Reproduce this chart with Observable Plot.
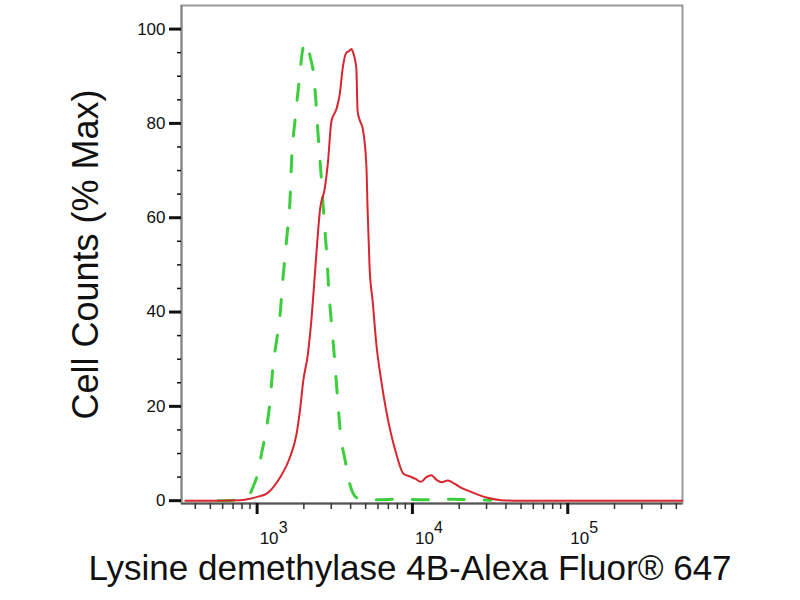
<!DOCTYPE html>
<html>
<head>
<meta charset="utf-8">
<script src="https://cdn.jsdelivr.net/npm/d3@7"></script>
<script src="https://cdn.jsdelivr.net/npm/@observablehq/plot@0.6"></script>
<style>
  body { margin: 0; background: white; }
</style>
</head>
<body>
<div id="chart"></div>
<script>
// isotype control (green, dashed)
const controlX = [560, 700, 800, 880, 930, 1000, 1077, 1142, 1212, 1267, 1343, 1403, 1468, 1550, 1628, 1669, 1752, 1860, 1963, 2030, 2110, 2190, 2318, 2390, 2460, 2570, 2690, 2810, 2896, 3023, 3160, 3304, 3454, 3670, 3945, 4380, 4900, 6000, 8000, 12000, 18000, 26000, 32000]
const controlY = [0, 0.1, 0.3, 0.8, 2.5, 5.3, 10.6, 14.8, 21.2, 28.6, 34.5, 39.2, 47.2, 55.5, 63.6, 72.5, 80.5, 88.6, 95.5, 97.2, 96.8, 94.3, 90, 84.7, 78.4, 70, 60.4, 51.9, 44.5, 37, 29.7, 21.2, 13.8, 8.9, 3.6, 0.6, 0.2, 0.2, 0.3, 0.2, 0.3, 0.2, 0.1]

// Lysine demethylase 4B stained sample (red)
const sampleX = [345, 580, 780, 900, 1000, 1154, 1404, 1628, 1796, 1887, 1982, 2123, 2243, 2356, 2462, 2535, 2729, 2852, 3012, 3244, 3406, 3557, 3756, 3900, 4045, 4120, 4353, 4437, 4600, 4778, 5047, 5149, 5300, 5543, 5853, 6300, 6780, 7860, 8750, 9710, 10500, 11330, 12300, 13230, 14300, 15500, 16800, 18030, 20000, 24600, 30500, 37200, 48500, 100000, 545000]
const sampleY = [0, 0, 0.1, 0.4, 0.8, 1.5, 4.9, 9.2, 14.2, 19.1, 25.4, 31.1, 38.8, 48.1, 56.6, 61.4, 66.3, 71.4, 80.5, 83.1, 86.2, 91.7, 95.0, 95.3, 95.8, 95.3, 91.8, 82.6, 80.5, 79.0, 71.4, 61.4, 49.4, 42.4, 33.3, 25.4, 19.1, 10.0, 5.7, 5.1, 4.6, 4.0, 5.0, 5.4, 4.4, 3.9, 4.3, 3.9, 3.0, 1.7, 0.6, 0.1, 0, 0, 0]

const decades = [1000, 10000, 100000]
const minorX = [400, 500, 600, 700, 800, 900, 2000, 3000, 4000, 5000, 6000, 7000, 8000, 9000, 20000, 30000, 40000, 50000, 60000, 70000, 80000, 90000, 200000, 300000, 400000, 500000]
const yTicks = [0, 20, 40, 60, 80, 100]
const yMinor = d3.range(0, 105, 5)

const control = controlX.map((x, i) => ({x, y: controlY[i]}))
const sample = sampleX.map((x, i) => ({x, y: sampleY[i]}))

let chart = Plot.plot({
  width: 800,
  height: 600,
  marginLeft: 181,
  marginRight: 118,
  marginTop: 5,
  marginBottom: 97,
  style: { fontFamily: "Liberation Sans, Arial, sans-serif", background: "white", color: "#111" },
  x: { type: "log", domain: [326, 548000], label: null },
  y: { domain: [-0.6, 105], label: null },
  marks: [
    Plot.frame({ stroke: "#9a9a9a", strokeWidth: 2 }),
    Plot.ruleY([-0.6], { stroke: "#555", strokeWidth: 2 }),
    Plot.ruleX([326], { stroke: "#888", strokeWidth: 2 }),
    // ticks
    Plot.axisY(yMinor, { tickSize: 4, strokeWidth: 1.5, tickFormat: () => "", label: null }),
    Plot.axisY(yTicks, { tickSize: 12, strokeWidth: 3, tickPadding: 4, fontSize: 17, label: null }),
    Plot.axisX(minorX, { tickSize: 6, strokeWidth: 1.5, stroke: "#333", tickFormat: () => "", label: null }),
    Plot.axisX(decades, { tickSize: 11, strokeWidth: 3, tickFormat: () => "", label: null }),
    Plot.text(decades, { x: d => d, frameAnchor: "bottom", text: () => "10", dx: 12, dy: 40, fontSize: 17 }),
    Plot.text(decades, { x: d => d, frameAnchor: "bottom", text: d => String(Math.round(Math.log10(d))), dx: 26, dy: 29, fontSize: 16 }),
    // curves
    Plot.line(control, { x: "x", y: "y", stroke: "#3ccf3c", strokeWidth: 3, strokeDasharray: "16,20", curve: "monotone-x" }),
    Plot.line(sample, { x: "x", y: "y", stroke: "#d8262e", strokeWidth: 2, curve: "monotone-x" }),
    // axis titles
    Plot.text(["Cell Counts (% Max)"], { frameAnchor: "left", textAnchor: "middle", rotate: -90, dx: -95, fontSize: 36, fill: "#111" }),
    Plot.text(["Lysine demethylase 4B-Alexa Fluor® 647"], { frameAnchor: "bottom", textAnchor: "middle", dx: -22, dy: 76, fontSize: 35, fill: "#111" })
  ]
})
d3.select('#chart').append(() => chart)
</script>
</body>
</html>
